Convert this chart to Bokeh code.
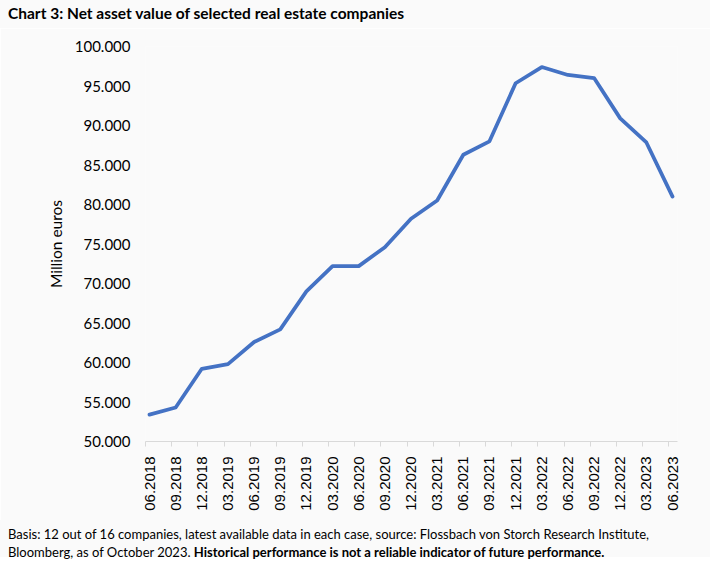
from bokeh.plotting import figure
from bokeh.models import FixedTicker, CustomJSTickFormatter, Range1d, Div
from bokeh.layouts import column
from bokeh.embed import file_html
from bokeh.resources import INLINE
import math

quarters = ["06.2018", "09.2018", "12.2018", "03.2019", "06.2019", "09.2019", "12.2019",
            "03.2020", "06.2020", "09.2020", "12.2020", "03.2021", "06.2021", "09.2021",
            "12.2021", "03.2022", "06.2022", "09.2022", "12.2022", "03.2023", "06.2023"]
nav = [53400, 54300, 59200, 59800, 62600, 64200, 69000,
       72200, 72200, 74600, 78200, 80500, 86300, 88000,
       95350, 97400, 96400, 96000, 90900, 87850, 81000]
y_ticks = [50000, 55000, 60000, 65000, 70000, 75000, 80000, 85000, 90000, 95000, 100000]

title_text = "Chart 3: Net asset value of selected real estate companies"
y_label = "Million euros"
foot1 = "Basis: 12 out of 16 companies, latest available data in each case, source: Flossbach von Storch Research Institute,"
foot2a = "Bloomberg, as of October 2023. "
foot2b = "Historical performance is not a reliable indicator of future performance."

W = 710
H_HEAD, H_MAIN, H_FOOT = 28, 492, 37
BG = "#fafafa"
FONT = "Lato"

# header (chart title)
head_html = (
    f'<div style="font-family: Lato, sans-serif; font-size: 15.5px; font-weight: bold; '
    f'line-height: 20px; color: #000000; padding: 2.5px 0 0 8px; margin: 0; white-space: nowrap;">'
    f'{title_text}</div>'
)
head = Div(text=head_html, width=W, height=H_HEAD, margin=(0, 0, 0, 0),
           styles={"background-color": BG, "margin": "0", "padding": "0"})

# main chart
xs = list(range(len(quarters)))
p = figure(width=W, height=H_MAIN, output_backend="svg", toolbar_location=None,
           x_range=Range1d(-0.153, len(quarters) - 1 + 0.19),
           y_range=Range1d(50000, 100000),
           min_border_left=145, min_border_right=33, min_border_top=18, min_border_bottom=79,
           background_fill_color=BG, border_fill_color=BG, outline_line_color=None)

p.line(xs, nav, line_color="#4472C4", line_width=3.75, line_join="round", line_cap="round")
p.xgrid.visible = False
p.ygrid.visible = False

xa = p.xaxis[0]
xa.ticker = FixedTicker(ticks=xs, minor_ticks=[x - 0.15 for x in xs])
xa.major_label_overrides = {i: q for i, q in enumerate(quarters)}
xa.major_label_orientation = math.pi / 2
xa.axis_line_color = "#d9d9d9"
xa.major_tick_line_color = None
xa.major_tick_in = 0
xa.major_tick_out = 0
xa.minor_tick_line_color = "#d9d9d9"
xa.minor_tick_in = 0
xa.minor_tick_out = 5
xa.major_label_text_font = "Liberation Sans"
xa.major_label_text_font_size = "15px"
xa.major_label_text_color = "#000000"
xa.major_label_standoff = 10

ya = p.yaxis[0]
ya.ticker = FixedTicker(ticks=y_ticks)
ya.formatter = CustomJSTickFormatter(code="""
const t = Math.round(tick);
return Math.floor(t/1000) + '.' + String(t % 1000).padStart(3, '0');
""")
ya.axis_line_color = None
ya.major_tick_line_color = None
ya.major_tick_in = 0
ya.major_tick_out = 0
ya.minor_tick_line_color = None
ya.major_label_text_font = FONT
ya.major_label_text_font_size = "15px"
ya.major_label_text_color = "#000000"
ya.major_label_standoff = 15
ya.axis_label = y_label
ya.axis_label_text_font = FONT
ya.axis_label_text_font_size = "15.5px"
ya.axis_label_text_font_style = "normal"
ya.axis_label_text_color = "#000000"
ya.axis_label_standoff = 7

# footer (source note)
foot_html = (
    f'<div style="font-family: Lato, sans-serif; font-size: 13px; line-height: 18.5px; '
    f'color: #000000; padding: 4.5px 0 0 8px; margin: 0; white-space: nowrap;">'
    f'{foot1}<br>{foot2a}<b>{foot2b}</b></div>'
)
foot = Div(text=foot_html, width=W, height=H_FOOT, margin=(0, 0, 0, 0),
           styles={"background-color": BG, "margin": "0", "padding": "0"})

layout = column(head, p, foot, spacing=0)
open("out.html", "w").write(file_html(layout, INLINE))
